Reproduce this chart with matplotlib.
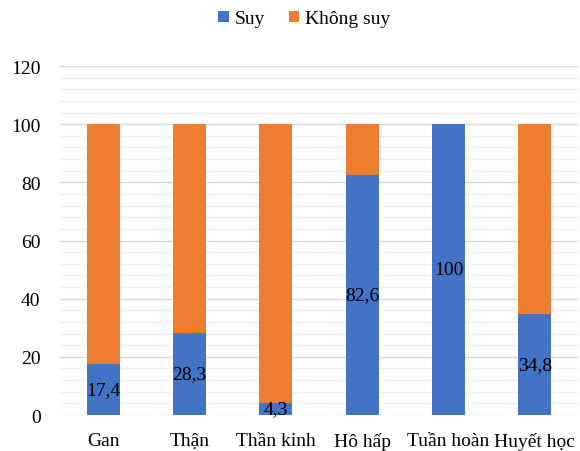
import matplotlib
matplotlib.use("Agg")
import matplotlib.pyplot as plt
from matplotlib.ticker import MultipleLocator
import numpy as np

plt.rcParams['font.family'] = ['Liberation Serif', 'DejaVu Serif']

categories = ["Gan", "Thận", "Thần kinh", "Hô hấp", "Tuần hoàn", "Huyết học"]
suy = [17.4, 28.3, 4.3, 82.6, 100.0, 34.8]
khong_suy = [82.6, 71.7, 95.7, 17.4, 0.0, 65.2]
suy_labels = ["17,4", "28,3", "4,3", "82,6", "100", "34,8"]

blue = "#4472C4"
orange = "#ED7D31"
fs = 14

fig = plt.figure(figsize=(5.8, 4.52), dpi=100)
ax = fig.add_axes([0.1034, 0.0796, 0.893, 0.772])

x = np.arange(len(categories))
w = 0.38
b1 = ax.bar(x, suy, width=w, color=blue, label="Suy", zorder=3)
b2 = ax.bar(x, khong_suy, width=w, bottom=suy, color=orange, label="Không suy", zorder=3)

for xi, v, t in zip(x, suy, suy_labels):
    ax.text(xi, v / 2, t, ha="center", va="center", fontsize=fs, color="#000000", zorder=4)

ax.set_xlim(-0.5, len(categories) - 0.5)
ax.set_ylim(0, 120)
ax.yaxis.set_major_locator(MultipleLocator(20))
ax.yaxis.set_minor_locator(MultipleLocator(4))
ax.grid(which="major", axis="y", color="#d9d9d9", linewidth=1.0, zorder=0)
ax.grid(which="minor", axis="y", color="#f0f0f0", linewidth=1.0, zorder=0)
ax.set_axisbelow(True)

for s in ax.spines.values():
    s.set_visible(False)
ax.tick_params(axis="both", which="both", length=0, labelsize=fs, colors="#000000")
ax.tick_params(axis="y", pad=14)
ax.tick_params(axis="x", pad=12)
ax.set_xticks(x)
ax.set_xticklabels(categories)

fig.legend(handles=[b1, b2], labels=["Suy", "Không suy"], loc="center",
           bbox_to_anchor=(0.525, 0.956), ncol=2, frameon=False, fontsize=fs,
           handlelength=0.55, handleheight=0.55, handletextpad=0.3, columnspacing=1.2)

fig.savefig("out.png", dpi=100)
